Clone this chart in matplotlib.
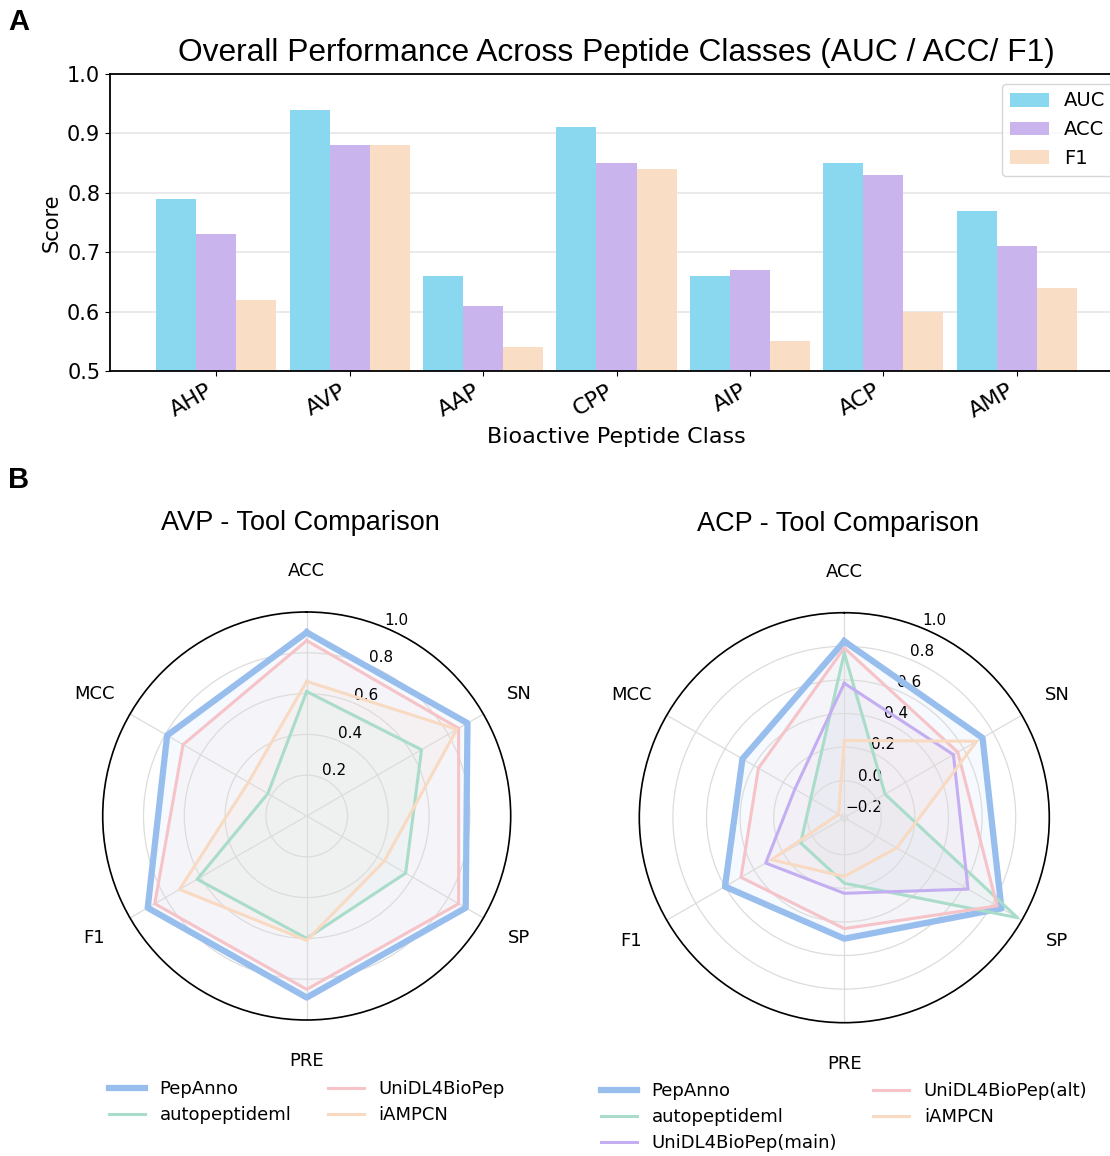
import numpy as np
import matplotlib
matplotlib.use("Agg")
import matplotlib.pyplot as plt

plt.rcParams['font.family'] = ['DejaVu Sans']

# ---- panel A data
classes = ['AHP', 'AVP', 'AAP', 'CPP', 'AIP', 'ACP', 'AMP']
auc = [0.79, 0.94, 0.66, 0.91, 0.66, 0.85, 0.77]
acc = [0.73, 0.88, 0.61, 0.85, 0.67, 0.83, 0.71]
f1 = [0.62, 0.88, 0.54, 0.84, 0.55, 0.60, 0.64]

# ---- panel B data
metrics = ['ACC', 'SN', 'SP', 'PRE', 'F1', 'MCC']

avp_pepanno = [0.90, 0.91, 0.90, 0.89, 0.90, 0.79]
avp_autopep = [0.61, 0.65, 0.56, 0.60, 0.62, 0.22]
avp_unidl = [0.86, 0.86, 0.86, 0.85, 0.86, 0.70]
avp_iampcn = [0.66, 0.85, 0.44, 0.61, 0.72, 0.33]

acp_pepanno = [0.83, 0.73, 0.86, 0.50, 0.60, 0.48]
acp_autopep = [0.76, 0.06, 0.97, 0.17, 0.08, 0.01]
acp_unidl_main = [0.58, 0.53, 0.63, 0.23, 0.32, 0.12]
acp_unidl_alt = [0.79, 0.56, 0.83, 0.44, 0.49, 0.37]
acp_iampcn = [0.24, 0.69, 0.14, 0.13, 0.28, -0.18]

c_blue = '#98BEEE'
c_green = '#A9DCC9'
c_pink = '#F5C3C8'
c_orange = '#F8DAC3'
c_purple = '#C4AEF2'

W, H = 1110, 1156
dpi = 100
fig = plt.figure(figsize=(W / dpi, H / dpi), dpi=dpi)

title_font = 'Liberation Sans'

# ================= A: grouped bars
ax = fig.add_axes([110 / W, 1 - 371 / H, 1013 / W, 297 / H])
x = np.arange(len(classes))
w = 0.3
ax.bar(x - w, auc, w, color='#8AD8EF', label='AUC')
ax.bar(x, acc, w, color='#C9B4EE', label='ACC')
ax.bar(x + w, f1, w, color='#F9DEC5', label='F1')
ax.set_ylim(0.5, 1.0)
ax.set_xticks(x)
ax.set_xticklabels(classes, rotation=30, ha='right', fontsize=16)
ax.tick_params(axis='y', labelsize=15)
ax.set_ylabel('Score', fontsize=15)
ax.set_xlabel('Bioactive Peptide Class', fontsize=16)
ax.set_title('Overall Performance Across Peptide Classes (AUC / ACC/ F1)',
             fontsize=22.9, family=title_font, pad=9)
ax.yaxis.grid(True, color='#e6e6e6', linewidth=1.2)
ax.set_axisbelow(True)
for s in ax.spines.values():
    s.set_linewidth(1.3)
ax.legend(loc='upper right', fontsize=14)

fig.text(19 / W, 1 - 22 / H, 'A', fontsize=21, fontweight='bold',
         family=title_font, ha='center', va='center')
fig.text(19 / W, 1 - 480 / H, 'B', fontsize=21, fontweight='bold',
         family=title_font, ha='center', va='center')

# ================= B: radar charts
angles = np.linspace(0, 2 * np.pi, len(metrics), endpoint=False)
angles_c = np.concatenate([angles, angles[:1]])


def radar(rect, title, series, rmin, rticks, leg_y):
    ax = fig.add_axes(rect, projection='polar')
    ax.set_theta_offset(np.pi / 2)
    ax.set_theta_direction(-1)
    for name, vals, col, lw in series:
        v = np.concatenate([vals, vals[:1]])
        ax.plot(angles_c, v, color=col, linewidth=lw, label=name)
        ax.fill(angles_c, v, color=col, alpha=0.08)
    ax.set_ylim(rmin, 1.0)
    ax.set_yticks(rticks)
    ax.set_yticklabels([('%.1f' % t).replace('-', '\u2212') for t in rticks],
                       fontsize=11)
    ax.set_xticks(angles)
    ax.set_xticklabels(metrics, fontsize=13)
    ax.tick_params(axis='x', pad=19)
    ax.grid(color='#dcdcdc', linewidth=0.9)
    ax.spines['polar'].set_linewidth(1.2)
    ax.text(0.485, 1.2, title, transform=ax.transAxes, ha='center',
            va='baseline', fontsize=19.5, family=title_font)
    ax.legend(loc='upper center', bbox_to_anchor=(0.5, leg_y), ncol=2,
              frameon=False, fontsize=13, labelspacing=0.45)
    return ax


radar([102.7 / W, 1 - 1020 / H, 408 / W, 408 / H], 'AVP - Tool Comparison',
      [('PepAnno', avp_pepanno, c_blue, 4.5),
       ('autopeptideml', avp_autopep, c_green, 2.2),
       ('UniDL4BioPep', avp_unidl, c_pink, 2.2),
       ('iAMPCN', avp_iampcn, c_orange, 2.2)],
      0.0, [0.2, 0.4, 0.6, 0.8, 1.0], -0.108)

radar([639.3 / W, 1 - 1022.7 / H, 410 / W, 410 / H], 'ACP - Tool Comparison',
      [('PepAnno', acp_pepanno, c_blue, 4.5),
       ('autopeptideml', acp_autopep, c_green, 2.2),
       ('UniDL4BioPep(main)', acp_unidl_main, c_purple, 2.2),
       ('UniDL4BioPep(alt)', acp_unidl_alt, c_pink, 2.2),
       ('iAMPCN', acp_iampcn, c_orange, 2.2)],
      -0.22, [-0.2, 0.0, 0.2, 0.4, 0.6, 0.8, 1.0], -0.105)

fig.savefig('out.png', dpi=dpi)
